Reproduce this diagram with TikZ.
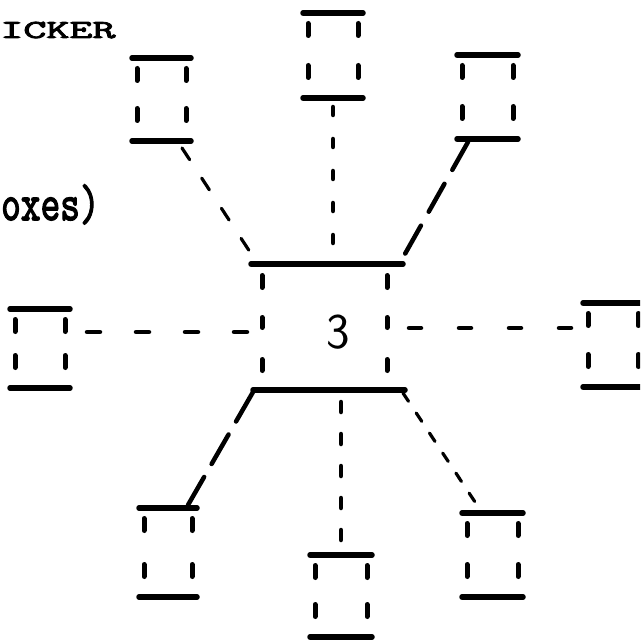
\documentclass[tikz,border=0pt]{standalone}
\usepackage{fontspec}
\newfontfamily\typew{Latin Modern Mono}[AutoFakeBold=3]
\usetikzlibrary{calc}
\begin{document}
\begin{tikzpicture}[x=1pt,y=-1pt,
  sbox/.style={rectangle,draw=none,inner sep=0pt,outer sep=0pt},
  bar/.style={line width=5.5pt,line cap=round},
  side/.style={line width=5pt,line cap=round},
  conn/.style={line width=4.5pt,line cap=round},
  dotconn/.style={line width=3.2pt,line cap=round},
  label3/.style={font=\fontsize{50}{50}\sffamily,inner sep=0pt},
  typed/.style={inner sep=0pt}]
\useasboundingbox (0,0) rectangle (640,644);
\clip (0,0) rectangle (640,644);
% boxes
\node[sbox,minimum width=49pt,minimum height=83pt] (tl) at (161.5,99.5) {};
\node[sbox,minimum width=50pt,minimum height=85pt] (tm) at (333,55.5) {};
\node[sbox,minimum width=51pt,minimum height=84pt] (tr) at (487.5,97) {};
\node[sbox,minimum width=50pt,minimum height=79pt] (l) at (40,348.5) {};
\node[sbox,minimum width=50pt,minimum height=84pt] (r) at (613,345) {};
\node[sbox,minimum width=48pt,minimum height=89pt] (bl) at (168,552.5) {};
\node[sbox,minimum width=51pt,minimum height=84pt] (br) at (492.5,555) {};
\node[sbox,minimum width=52pt,minimum height=82pt] (bm) at (341,596) {};
\node[sbox,minimum width=125pt,minimum height=126pt] (c) at (324.5,327) {};
\foreach \b in {tl,tm,tr,l,r,bl,br,bm} {
  \draw[bar] ($(\b.north west)+(-5,0)$) -- ($(\b.north east)+(5,0)$);
  \draw[bar] ($(\b.south west)+(-5,0)$) -- ($(\b.south east)+(5,0)$);
  \foreach \a in {west,east} {
    \draw[side] ($(\b.north \a)+(0,10.5)$) -- ($(\b.north \a)+(0,22.5)$);
    \draw[side] ($(\b.south \a)+(0,-32.5)$) -- ($(\b.south \a)+(0,-20.5)$);
  }
}
% centre box
\draw[bar] ($(c.north west)+(-11,0)$) -- ($(c.north east)+(16,0)$);
\draw[bar] ($(c.south west)+(-9,0)$) -- ($(c.south east)+(18,0)$);
\foreach \a in {west,east} {
  \draw[side] ($(c.north \a)+(0,11.5)$) -- ($(c.north \a)+(0,23.5)$);
  \draw[side] ($(c.north \a)+(0,53.5)$) -- ($(c.north \a)+(0,63.5)$);
  \draw[side] ($(c.north \a)+(0,95.5)$) -- ($(c.north \a)+(0,106.5)$);
}
\node[label3] (three) at ($(c.center)+(13.5,5)$) {3};
% connectors
\draw[dotconn,dash pattern=on 14pt off 22pt] ($(tl.south east)+(-4,7)$) -- ($(c.north west)+(-12,-12)$);
\draw[conn,dash pattern=on 8pt off 24pt] ($(tm.south)+(0,9)$) -- ($(tm.south |- c.north)+(0,-8)$);
\draw[conn,dash pattern=on 32pt off 16pt] ($(tr.south west)+(6,3)$) -- ($(c.north east)+(14,-3)$);
\draw[conn,dash pattern=on 13pt off 36pt] ($(l.east |- c.center)+(22,5)$) -- ($(c.west)+(-14,5)$);
\draw[conn,dash pattern=on 12pt off 38pt] ($(c.east)+(22,1)$) -- ($(r.west |- c.center)+(-16,1)$);
\draw[conn,dash pattern=on 34pt off 15pt] ($(c.south west)+(-9,2)$) -- ($(bl.north east)+(-4,-3)$);
\draw[conn,dash pattern=on 10pt off 22pt] ($(bm.north |- c.south)+(0,12)$) -- ($(bm.north)+(0,-10)$);
\draw[dotconn,dash pattern=on 10pt off 14pt] ($(c.south east)+(16,3)$) -- ($(br.north west)+(10,-8)$);
% texts
\node[typed,anchor=base west,font=\fontsize{26}{26}\typew\bfseries,xscale=1.72] (t1) at (0,38) {ICKER};
\node[typed,anchor=base west,font=\fontsize{51}{51}\typew\bfseries,xscale=0.75] (t2) at (1,220) {oxes)};
\end{tikzpicture}
\end{document}
